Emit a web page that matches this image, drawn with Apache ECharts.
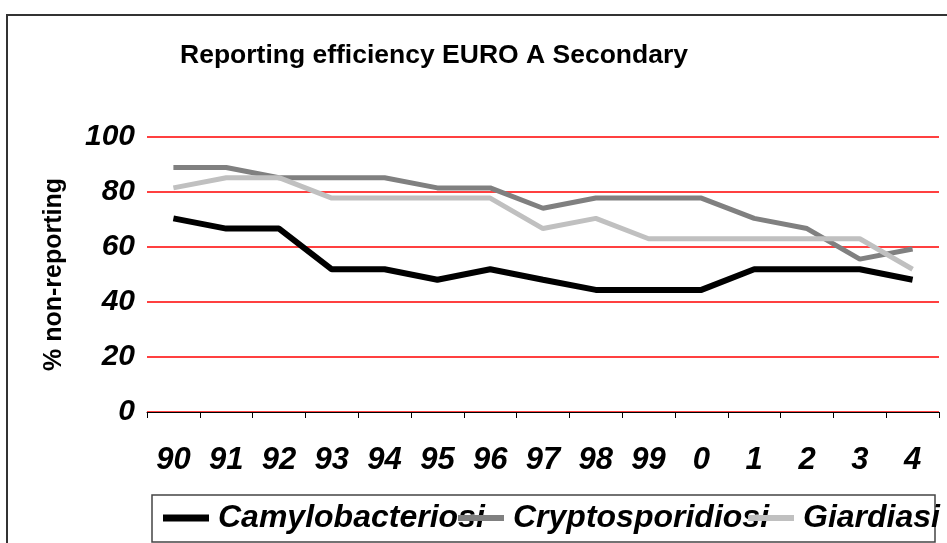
<!DOCTYPE html>
<html>
<head>
<meta charset="utf-8">
<title>Reporting efficiency EURO A Secondary</title>
<script src="https://cdn.jsdelivr.net/npm/echarts@6/dist/echarts.min.js"></script>
<style>
  html, body { margin: 0; padding: 0; background: #fff; }
  #chart { width: 947px; height: 543px; }
</style>
</head>
<body>
<div id="chart"></div>
<script>
// years on the x axis
var years = ['90', '91', '92', '93', '94', '95', '96', '97', '98', '99', '0', '1', '2', '3', '4'];
// % non-reporting per disease
var camylobacteriosi = [70.4, 66.7, 66.7, 51.9, 51.9, 48.1, 51.9, 48.1, 44.4, 44.4, 44.4, 51.9, 51.9, 51.9, 48.1];
var cryptosporidiosi = [88.9, 88.9, 85.2, 85.2, 85.2, 81.5, 81.5, 74.1, 77.8, 77.8, 77.8, 70.4, 66.7, 55.6, 59.3];
var giardiasi = [81.5, 85.2, 85.2, 77.8, 77.8, 77.8, 77.8, 66.7, 70.4, 63.0, 63.0, 63.0, 63.0, 63.0, 51.9];
var yTicks = [0, 20, 40, 60, 80, 100];

var font = "'Liberation Sans', Arial, sans-serif";
var chart = echarts.init(document.getElementById('chart'));

function legendItem(name, left, h) {
  return {
    data: [name],
    left: left,
    top: 502,
    padding: 0,
    icon: 'rect',
    itemWidth: 46,
    itemHeight: h,
    itemGap: 0,
    selectedMode: false,
    textStyle: {
      fontFamily: font,
      fontSize: 32,
      fontWeight: 'bold',
      fontStyle: 'italic',
      color: '#000',
      padding: [0, 0, 0, 4]
    }
  };
}

function lineSeries(name, data, color, width) {
  return {
    name: name,
    type: 'line',
    data: data,
    color: color,
    symbol: 'none',
    lineStyle: { color: color, width: width }
  };
}

chart.setOption({
  animation: false,
  title: {
    text: 'Reporting efficiency EURO A Secondary',
    left: 175,
    top: 37,
    textStyle: { fontFamily: font, fontSize: 26.5, fontWeight: 'bold', color: '#000' }
  },
  graphic: [
    {
      type: 'rect',
      shape: { x: 7, y: 15, width: 960, height: 560 },
      style: { fill: 'none', stroke: '#333', lineWidth: 2 },
      silent: true
    },
    {
      type: 'rect',
      shape: { x: 152, y: 495, width: 783, height: 47 },
      style: { fill: 'none', stroke: '#444', lineWidth: 1.5 },
      silent: true
    }
  ],
  legend: [
    legendItem('Camylobacteriosi', 163, 7),
    legendItem('Cryptosporidiosi', 458, 6),
    legendItem('Giardiasi', 748, 6)
  ],
  grid: { left: 147, right: 8, top: 137, bottom: 131 },
  xAxis: {
    type: 'category',
    data: years,
    boundaryGap: true,
    axisLine: { lineStyle: { color: '#000', width: 1 } },
    axisTick: { show: true, length: 6, lineStyle: { color: '#000' } },
    axisLabel: {
      interval: 0,
      margin: 33,
      fontFamily: font,
      fontSize: 31,
      fontWeight: 'bold',
      fontStyle: 'italic',
      color: '#000'
    },
    splitLine: { show: false }
  },
  yAxis: {
    type: 'value',
    min: yTicks[0],
    max: yTicks[yTicks.length - 1],
    interval: 20,
    name: '% non-reporting',
    nameLocation: 'middle',
    nameRotate: 90,
    nameGap: 80,
    nameTextStyle: { fontFamily: font, fontSize: 25, fontWeight: 'bold', color: '#000' },
    axisLine: { show: false },
    axisTick: { show: false },
    axisLabel: {
      margin: 12,
      padding: [8, 0, 0, 0],
      fontFamily: font,
      fontSize: 30,
      fontWeight: 'bold',
      fontStyle: 'italic',
      color: '#000'
    },
    splitLine: { lineStyle: { color: '#ff0000', width: 1.5 } }
  },
  series: [
    lineSeries('Camylobacteriosi', camylobacteriosi, '#000000', 6),
    lineSeries('Cryptosporidiosi', cryptosporidiosi, '#808080', 5),
    lineSeries('Giardiasi', giardiasi, '#c0c0c0', 5)
  ]
});
</script>
</body>
</html>
